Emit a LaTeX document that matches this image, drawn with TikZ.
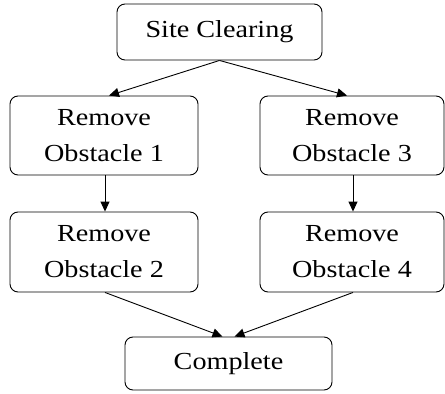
\documentclass[tikz,border=0pt]{standalone}
\usepackage{fontspec}
\setmainfont[FakeStretch=1.15]{Liberation Serif}
\usetikzlibrary{arrows.meta}
\begin{document}
\begin{tikzpicture}[x=1pt,y=-1pt,
  box/.style={draw,line width=0.9pt,rounded corners=8pt,align=center,inner sep=0pt,
    font=\fontsize{24.5}{36}\selectfont},
  arr/.style={line width=0.9pt,-{Triangle[length=10pt,width=9pt]}}]
\useasboundingbox (0,0) rectangle (445,394);
\node[box,minimum width=205pt,minimum height=56pt] (SC) at (219.5,32) {Site Clearing};
\node[box,minimum width=188pt,minimum height=79pt] (O1) at (104,135.5) {Remove\\Obstacle 1};
\node[box,minimum width=184pt,minimum height=79pt] (O3) at (352,135.5) {Remove\\Obstacle 3};
\node[box,minimum width=188pt,minimum height=80pt] (O2) at (104,252) {Remove\\Obstacle 2};
\node[box,minimum width=184pt,minimum height=80pt] (O4) at (352,252) {Remove\\Obstacle 4};
\node[box,minimum width=207pt,minimum height=53pt] (C) at (228.5,363.5) {Complete};
\draw[arr] (SC.south) -- ([xshift=5pt]O1.north);
\draw[arr] (SC.south) -- ([xshift=-5pt]O3.north);
\draw[arr] ([xshift=1pt]O1.south) -- ([xshift=1pt]O2.north);
\draw[arr] ([xshift=1pt]O3.south) -- ([xshift=1pt]O4.north);
\draw[arr] ([xshift=1pt]O2.south) -- ([xshift=-6pt]C.north);
\draw[arr] ([xshift=1pt]O4.south) -- ([xshift=6pt]C.north);
\end{tikzpicture}
\end{document}
